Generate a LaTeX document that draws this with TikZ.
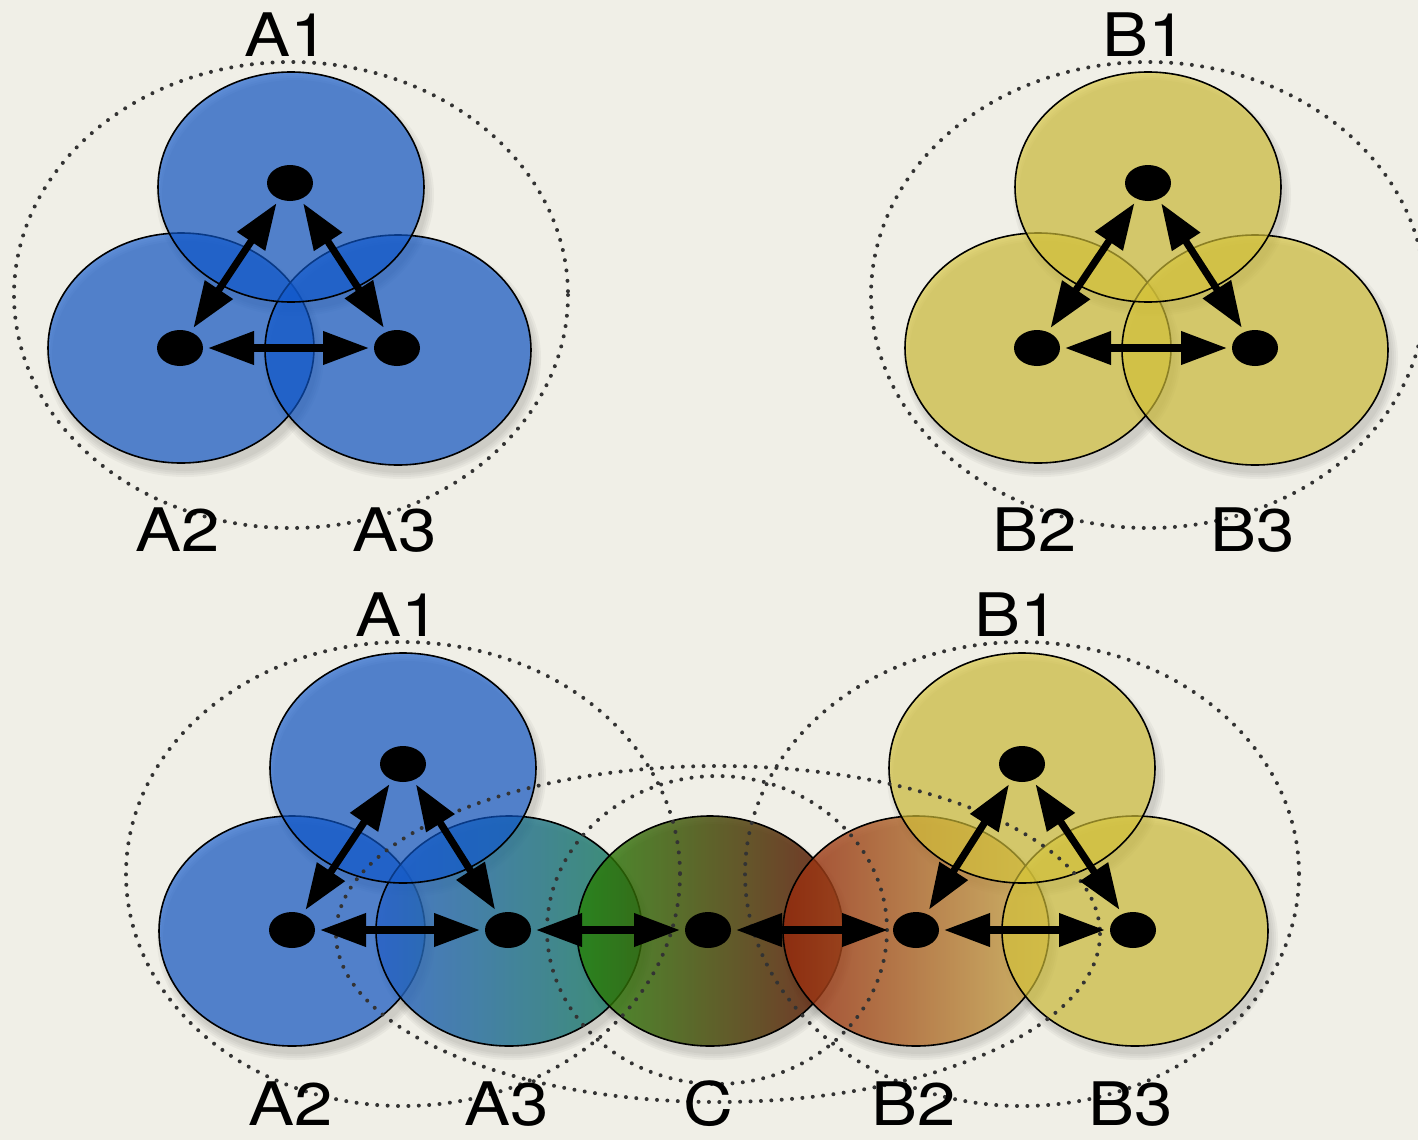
\documentclass[tikz,border=0pt]{standalone}
\usepackage{fontspec}
\setmainfont{TeX Gyre Heros}
\usepackage{graphicx}
\usetikzlibrary{arrows.meta,shapes.geometric}
\definecolor{bg}{RGB}{240,239,231}
\definecolor{blueC}{RGB}{15,88,205}
\definecolor{yelC}{RGB}{214,196,58}
\definecolor{aL}{RGB}{40,98,200}
\definecolor{aR}{RGB}{25,128,90}
\definecolor{cL}{RGB}{38,132,8}
\definecolor{cM}{RGB}{60,50,5}
\definecolor{cR}{RGB}{95,12,0}
\definecolor{bL}{RGB}{150,40,12}
\definecolor{bR}{RGB}{205,175,80}
\newcommand\csh[2]{\foreach \k in {0,...,3}{\fill[black,opacity=0.035] (#1+4,#2+8) ellipse [x radius={133+2*\k}, y radius={115+2*\k}];}}
\newcommand\lt[1]{\scalebox{1.15}[1]{#1}}
\begin{document}
\begin{tikzpicture}[x=0.5pt,y=-0.5pt,
  bubble/.style={ellipse, draw=black, line width=0.8pt, inner sep=0pt, outer sep=0pt,
    minimum width=133pt, minimum height=115pt, fill opacity=0.65},
  bblue/.style={bubble, fill=blueC},
  byel/.style={bubble, fill=yelC},
  bgrad/.style={bubble, fill opacity=0.8},
  dot/.style={ellipse, fill=black, inner sep=0pt, outer sep=0pt, minimum width=23pt, minimum height=18pt},
  link/.style={{Triangle[length=23pt,width=16pt]}-{Triangle[length=23pt,width=16pt]}, line width=3.6pt,
    shorten <=2.5pt, shorten >=2.5pt},
  grp/.style={draw=black!80, line width=2pt, line cap=round, dash pattern=on 0pt off 5.2pt},
  lbl/.style={font=\fontsize{30}{36}\selectfont, inner sep=0pt}
]
\fill[bg] (0,0) rectangle (1418,1140);
\useasboundingbox (0,0) rectangle (1418,1140);

% ---------- shadows ----------
\csh{181}{348}\csh{398}{350}\csh{291}{187}
\csh{1038}{348}\csh{1255}{350}\csh{1148}{187}
\csh{292}{931}\csh{509}{931}\csh{710}{931}\csh{916}{931}\csh{1135}{931}\csh{403}{768}\csh{1022}{768}

% ---------- top left group A ----------
\node[bblue] (tcA2) at (181,348) {};
\node[bblue] (tcA3) at (398,350) {};
\node[bblue] (tcA1) at (291,187) {};
% ---------- top right group B ----------
\node[byel] (tcB2) at (1038,348) {};
\node[byel] (tcB3) at (1255,350) {};
\node[byel] (tcB1) at (1148,187) {};

% ---------- bottom ----------
\node[bblue] (bcA2) at (292,931) {};
\node[bgrad, left color=aL, right color=aR] (bcA3) at (509,931) {};
\node[bgrad, left color=cL, middle color=cM, right color=cR] (bcC) at (710,931) {};
\node[bgrad, left color=bL, right color=bR] (bcB2) at (916,931) {};
\node[byel] (bcB3) at (1135,931) {};
\node[bblue] (bcA1) at (403,768) {};
\node[byel] (bcB1) at (1022,768) {};

% ---------- dotted group outlines ----------
\draw[grp] (291,295) ellipse [x radius=277, y radius=233];
\draw[grp] (1148,295) ellipse [x radius=277, y radius=233];
\draw[grp] (403,874) ellipse [x radius=277, y radius=232];
\draw[grp] (1022,874) ellipse [x radius=277, y radius=232];
\draw[grp] (718,934) ellipse [x radius=382, y radius=168];
\draw[grp] (717,930) ellipse [x radius=170, y radius=154];

% ---------- dots ----------
\node[dot] (ta1) at (290,183) {};
\node[dot] (ta2) at (180,348) {};
\node[dot] (ta3) at (397,348) {};
\node[dot] (tb1) at (1148,183) {};
\node[dot] (tb2) at (1037,348) {};
\node[dot] (tb3) at (1255,348) {};
\node[dot] (ba1) at (403,764) {};
\node[dot] (ba2) at (292,930) {};
\node[dot] (ba3) at (508,930) {};
\node[dot] (bc) at (708,930) {};
\node[dot] (bb2) at (916,930) {};
\node[dot] (bb3) at (1133,930) {};
\node[dot] (bb1) at (1022,764) {};

% ---------- links ----------
\draw[link] (ta1) -- (ta2);
\draw[link] (ta1) -- (ta3);
\draw[link] (ta2) -- (ta3);
\draw[link] (tb1) -- (tb2);
\draw[link] (tb1) -- (tb3);
\draw[link] (tb2) -- (tb3);
\draw[link] (ba1) -- (ba2);
\draw[link] (ba1) -- (ba3);
\draw[link] (ba2) -- (ba3);
\draw[link] (ba3) -- (bc);
\draw[link] (bc) -- (bb2);
\draw[link] (bb2) -- (bb3);
\draw[link] (bb1) -- (bb2);
\draw[link] (bb1) -- (bb3);

% ---------- labels ----------
\node[lbl] (lA1t) at (287,35) {\lt{A1}};
\node[lbl] (lA2t) at (178,530) {\lt{A2}};
\node[lbl] (lA3t) at (395,530) {\lt{A3}};
\node[lbl] (lB1t) at (1145,35) {\lt{B1}};
\node[lbl] (lB2t) at (1035,530) {\lt{B2}};
\node[lbl] (lB3t) at (1253,530) {\lt{B3}};
\node[lbl] (lA1b) at (398,615) {\lt{A1}};
\node[lbl] (lB1b) at (1017,615) {\lt{B1}};
\node[lbl] (lA2b) at (291,1104) {\lt{A2}};
\node[lbl] (lA3b) at (507,1104) {\lt{A3}};
\node[lbl] (lCb) at (708,1104) {\lt{C}};
\node[lbl] (lB2b) at (914,1104) {\lt{B2}};
\node[lbl] (lB3b) at (1131,1104) {\lt{B3}};
\end{tikzpicture}
\end{document}
